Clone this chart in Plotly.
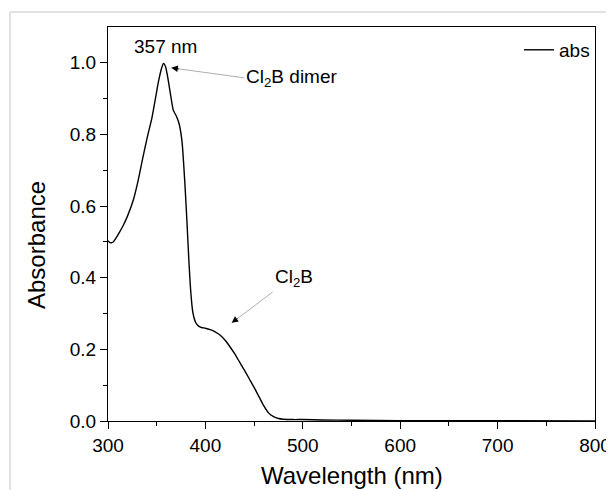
import plotly.graph_objects as go

wavelength = [300, 302, 305, 308, 312, 316, 320, 326, 331, 336, 341, 345, 349, 352, 355, 357, 359, 361, 364, 367, 370, 373, 376, 379, 381, 383, 385, 387, 390, 393, 396, 400, 405, 410, 415, 420, 425, 430, 435, 440, 445, 450, 455, 460, 465, 470, 475, 480, 490, 500, 520, 550, 600, 700, 800]
absorbance = [0.503, 0.498, 0.499, 0.510, 0.528, 0.548, 0.572, 0.617, 0.672, 0.738, 0.800, 0.845, 0.905, 0.950, 0.985, 0.998, 0.990, 0.965, 0.915, 0.868, 0.852, 0.830, 0.780, 0.660, 0.560, 0.450, 0.360, 0.305, 0.275, 0.265, 0.261, 0.259, 0.255, 0.249, 0.240, 0.226, 0.208, 0.188, 0.165, 0.142, 0.118, 0.094, 0.068, 0.042, 0.022, 0.012, 0.007, 0.005, 0.004, 0.004, 0.003, 0.002, 0.001, 0.001, 0.000]

peak_label = "357 nm"
dimer_label = "Cl<sub>2</sub>B dimer"
mono_label = "Cl<sub>2</sub>B"
x_title = "Wavelength (nm)"
y_title = "Absorbance"

fig = go.Figure()
fig.add_trace(go.Scatter(x=wavelength, y=absorbance, mode="lines", name="abs",
                         line=dict(color="black", width=1.4, shape="spline", smoothing=0.6)))

font = "Liberation Sans, Arial, sans-serif"
OFF = 8  # default page body margin
W, H = 614 - OFF, 490 - OFF
L, R, T, B = 108 - OFF, 595 - OFF, 27 - OFF, 421 - OFF
ann = []
ann.append(dict(x=359.5, y=1.045, xref="x", yref="y", text=peak_label, showarrow=False,
                font=dict(size=19, color="black", family=font)))
ann.append(dict(x=365, y=0.986, xref="x", yref="y", text=dimer_label, showarrow=True,
                ax=440, ay=0.958, axref="x", ayref="y", xanchor="left",
                arrowhead=0, arrowwidth=0.8, arrowcolor="#999999", standoff=0,
                font=dict(size=19, color="black", family=font)))
ann.append(dict(x=365, y=0.986, xref="x", yref="y", text="", showarrow=True,
                ax=9, ay=1.3, arrowhead=2, arrowsize=1.3, arrowwidth=1, arrowcolor="black", standoff=0))
ann.append(dict(x=427, y=0.274, xref="x", yref="y", text=mono_label, showarrow=True,
                ax=469, ay=0.36, axref="x", ayref="y", xanchor="left", yanchor="bottom",
                arrowhead=0, arrowwidth=0.8, arrowcolor="#999999", standoff=0,
                font=dict(size=19, color="black", family=font)))
ann.append(dict(x=427, y=0.274, xref="x", yref="y", text="", showarrow=True,
                ax=7, ay=-5.3, arrowhead=2, arrowsize=1.3, arrowwidth=1, arrowcolor="black", standoff=0))
# axis titles (targets given in screen pixels)
ann.append(dict(x=(352 - OFF - L) / (R - L), y=(B - (476 - OFF)) / (B - T), xref="paper", yref="paper",
                text=x_title, showarrow=False, xanchor="center", yanchor="middle",
                font=dict(size=24, color="black", family=font)))
ann.append(dict(x=(36 - OFF - L) / (R - L), y=(B - (245 - OFF)) / (B - T), xref="paper", yref="paper",
                text=y_title, showarrow=False, textangle=-90, xanchor="center", yanchor="middle",
                font=dict(size=24, color="black", family=font)))

gx = (10 - OFF - L) / (R - L)
gy = (B - (12 - OFF)) / (B - T)
fig.update_layout(
    width=W, height=H,
    margin=dict(l=L, r=W - R, t=T, b=H - B, autoexpand=False),
    paper_bgcolor="white", plot_bgcolor="white",
    font=dict(family=font, size=19, color="black"),
    showlegend=True,
    legend=dict(x=1.0, y=0.99, xanchor="right", yanchor="top", bgcolor="rgba(0,0,0,0)",
                font=dict(size=19, family=font)),
    annotations=ann,
    shapes=[
        dict(type="line", xref="paper", yref="paper", x0=gx, x1=(W - L) / (R - L),
             y0=gy, y1=gy, line=dict(color="#d8d8d8", width=1.5)),
        dict(type="line", xref="paper", yref="paper", x0=gx, x1=gx,
             y0=gy, y1=(B - H) / (B - T), line=dict(color="#d8d8d8", width=1.5)),
    ],
)
fig.update_xaxes(range=[300, 800], tickvals=[300, 400, 500, 600, 700, 800], automargin=False,
                 ticks="outside", ticklen=7, tickwidth=1, tickcolor="black",
                 minor=dict(tickvals=[350, 450, 550, 650, 750], ticks="outside", ticklen=4, tickcolor="black"),
                 showline=True, linecolor="black", linewidth=1, mirror=True, showgrid=False, zeroline=False,
                 tickfont=dict(size=19, family=font))
fig.update_yaxes(range=[0, 1.1], tickvals=[0, 0.2, 0.4, 0.6, 0.8, 1.0], tickformat=".1f", automargin=False,
                 ticks="outside", ticklen=7, tickwidth=1, tickcolor="black",
                 minor=dict(tickvals=[0.1, 0.3, 0.5, 0.7, 0.9], ticks="outside", ticklen=4, tickcolor="black"),
                 showline=True, linecolor="black", linewidth=1, mirror=True, showgrid=False, zeroline=False,
                 tickfont=dict(size=19, family=font))
fig.write_html("out.html")
